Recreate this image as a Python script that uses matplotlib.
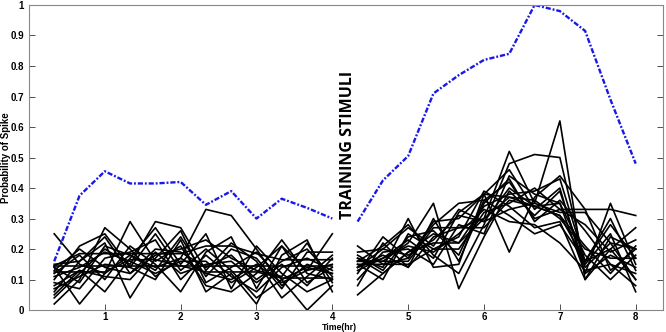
import numpy as np
import matplotlib
matplotlib.use('Agg')
import matplotlib.pyplot as plt

# time points (hours) before and after training
t_pre = [0.333, 0.667, 1.0, 1.333, 1.667, 2.0, 2.333, 2.667, 3.0, 3.333, 3.667, 4.0]
t_post = [4.333, 4.667, 5.0, 5.333, 5.667, 6.0, 6.333, 6.667, 7.0, 7.333, 7.667, 8.0]

# population spike probability (blue)
pop_pre = [0.16, 0.375, 0.455, 0.415, 0.415, 0.42, 0.345, 0.39, 0.30, 0.365, 0.335, 0.30]
pop_post = [0.29, 0.425, 0.505, 0.71, 0.77, 0.82, 0.84, 1.0, 0.98, 0.915, 0.69, 0.48]

# individual neurons, pre-training
neurons_pre = [
    [0.25, 0.15, 0.12, 0.18, 0.14, 0.17, 0.12, 0.10, 0.15, 0.09, 0.13, 0.25],
    [0.14, 0.02, 0.12, 0.29, 0.16, 0.21, 0.08, 0.06, 0.12, 0.23, 0.12, 0.10],
    [0.02, 0.10, 0.27, 0.20, 0.11, 0.17, 0.33, 0.31, 0.20, 0.08, 0.15, 0.12],
    [0.06, 0.16, 0.22, 0.04, 0.17, 0.26, 0.09, 0.14, 0.19, 0.10, 0.00, 0.08],
    [0.04, 0.12, 0.20, 0.15, 0.29, 0.27, 0.13, 0.22, 0.16, 0.04, 0.11, 0.18],
    [0.10, 0.21, 0.25, 0.14, 0.10, 0.23, 0.06, 0.12, 0.02, 0.18, 0.23, 0.06],
    [0.08, 0.13, 0.06, 0.17, 0.27, 0.15, 0.25, 0.07, 0.21, 0.12, 0.06, 0.10],
    [0.145, 0.145, 0.145, 0.145, 0.145, 0.145, 0.145, 0.145, 0.145, 0.145, 0.145, 0.145],
    [0.145, 0.185, 0.185, 0.185, 0.185, 0.185, 0.21, 0.21, 0.185, 0.165, 0.165, 0.165],
    [0.12, 0.18, 0.10, 0.21, 0.15, 0.06, 0.19, 0.24, 0.07, 0.21, 0.09, 0.14],
    [0.15, 0.16, 0.24, 0.12, 0.20, 0.19, 0.14, 0.18, 0.10, 0.16, 0.20, 0.11],
    [0.09, 0.07, 0.17, 0.19, 0.23, 0.10, 0.18, 0.11, 0.06, 0.14, 0.17, 0.13],
    [0.13, 0.20, 0.14, 0.12, 0.18, 0.20, 0.23, 0.17, 0.13, 0.11, 0.22, 0.09],
    [0.11, 0.14, 0.19, 0.16, 0.12, 0.16, 0.16, 0.09, 0.14, 0.21, 0.13, 0.15],
    [0.07, 0.11, 0.15, 0.14, 0.25, 0.13, 0.20, 0.13, 0.04, 0.10, 0.14, 0.12],
    [0.125, 0.125, 0.125, 0.165, 0.165, 0.145, 0.125, 0.125, 0.125, 0.105, 0.105, 0.105],
    [0.14, 0.09, 0.21, 0.18, 0.13, 0.24, 0.11, 0.20, 0.17, 0.07, 0.19, 0.19],
    [0.05, 0.13, 0.11, 0.10, 0.19, 0.12, 0.15, 0.16, 0.09, 0.15, 0.08, 0.17],
]

# individual neurons, post-training
neurons_post = [
    [0.05, 0.12, 0.19, 0.22, 0.22, 0.30, 0.52, 0.35, 0.62, 0.10, 0.20, 0.10],
    [0.16, 0.21, 0.28, 0.18, 0.12, 0.28, 0.48, 0.51, 0.50, 0.15, 0.25, 0.06],
    [0.21, 0.15, 0.17, 0.29, 0.30, 0.38, 0.19, 0.37, 0.44, 0.33, 0.33, 0.31],
    [0.14, 0.17, 0.23, 0.17, 0.32, 0.38, 0.46, 0.33, 0.40, 0.12, 0.35, 0.15],
    [0.16, 0.16, 0.22, 0.35, 0.07, 0.24, 0.39, 0.31, 0.39, 0.14, 0.22, 0.10],
    [0.12, 0.24, 0.17, 0.28, 0.35, 0.36, 0.42, 0.30, 0.33, 0.33, 0.13, 0.20],
    [0.15, 0.10, 0.25, 0.20, 0.24, 0.39, 0.34, 0.27, 0.29, 0.10, 0.24, 0.20],
    [0.17, 0.14, 0.30, 0.14, 0.15, 0.38, 0.37, 0.36, 0.30, 0.20, 0.17, 0.17],
    [0.15, 0.15, 0.15, 0.20, 0.20, 0.32, 0.35, 0.40, 0.33, 0.28, 0.19, 0.23],
    [0.14, 0.18, 0.14, 0.24, 0.27, 0.30, 0.37, 0.34, 0.31, 0.16, 0.30, 0.13],
    [0.10, 0.19, 0.20, 0.15, 0.28, 0.25, 0.44, 0.38, 0.35, 0.18, 0.10, 0.18],
    [0.18, 0.13, 0.24, 0.26, 0.18, 0.36, 0.31, 0.25, 0.28, 0.16, 0.20, 0.27],
    [0.13, 0.17, 0.21, 0.19, 0.25, 0.33, 0.29, 0.28, 0.22, 0.13, 0.15, 0.08],
    [0.19, 0.20, 0.18, 0.23, 0.31, 0.29, 0.40, 0.34, 0.35, 0.12, 0.18, 0.14],
    [0.16, 0.16, 0.16, 0.27, 0.27, 0.27, 0.36, 0.34, 0.31, 0.21, 0.12, 0.21],
    [0.08, 0.22, 0.14, 0.30, 0.16, 0.35, 0.43, 0.29, 0.36, 0.26, 0.15, 0.12],
    [0.14, 0.20, 0.27, 0.21, 0.33, 0.29, 0.33, 0.35, 0.32, 0.32, 0.22, 0.20],
    [0.17, 0.12, 0.19, 0.25, 0.22, 0.34, 0.38, 0.39, 0.43, 0.16, 0.28, 0.17],
]

x_ticks = [1, 2, 3, 4, 5, 6, 7, 8]
y_ticks = [0, 0.1, 0.2, 0.3, 0.4, 0.5, 0.6, 0.7, 0.8, 0.9, 1]
y_labels = ['0', '0.1', '0.2', '0.3', '0.4', '0.5', '0.6', '0.7', '0.8', '0.9', '1']

plt.rcParams['font.family'] = ['Liberation Sans', 'DejaVu Sans']

fig = plt.figure(figsize=(6.66, 3.32), dpi=100)
ax = fig.add_axes([0.0435, 0.066, 0.952, 0.919])

for n in neurons_pre:
    ax.plot(t_pre, n, color='black', lw=1.2)
for n in neurons_post:
    ax.plot(t_post, n, color='black', lw=1.2)

dashdot = (0, (2.2, 0.8, 0.8, 0.8))
ax.plot(t_pre, pop_pre, color='#1818e8', lw=1.7, linestyle=dashdot)
ax.plot(t_post, pop_post, color='#1818e8', lw=1.7, linestyle=dashdot)

ax.text(4.21, 0.54, 'TRAINING STIMULI', rotation=90, ha='center', va='center',
        fontsize=11.5, fontweight='bold', family='Open Sans')

ax.set_xlim(0, 8.36)
ax.set_ylim(0, 1)
ax.set_xticks(x_ticks)
ax.set_yticks(y_ticks)
ax.set_yticklabels(y_labels)
ax.tick_params(direction='in', labelsize=7, length=4, width=0.6, right=True,
               colors='#333333', labelcolor='black')
ax.tick_params(axis='x', pad=1.5)
for lab in ax.get_xticklabels() + ax.get_yticklabels():
    lab.set_fontweight('bold')
for s in ax.spines.values():
    s.set_color('#888888')
    s.set_linewidth(0.8)

ax.set_xlabel('Time(hr)', fontsize=6.3, fontweight='bold')
ax.xaxis.set_label_coords(0.49, -0.043)
ax.set_ylabel('Probability of Spike', fontsize=7, fontweight='bold')
ax.yaxis.set_label_coords(-0.029, 0.5)

fig.savefig('out.png', dpi=100)
